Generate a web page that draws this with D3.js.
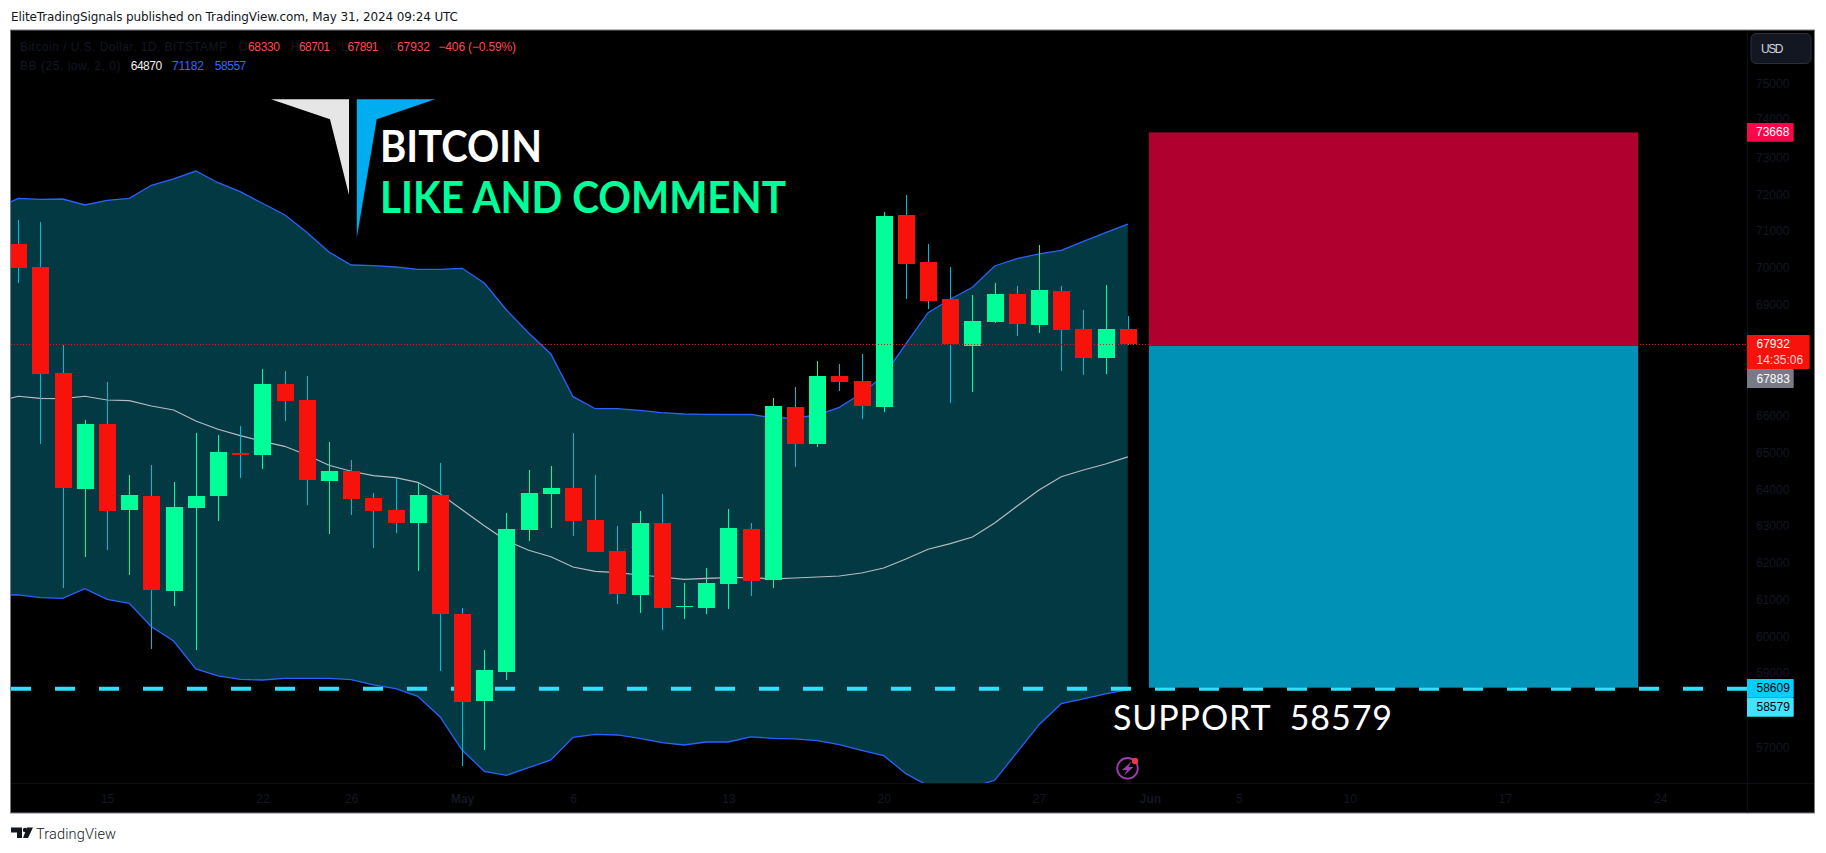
<!DOCTYPE html>
<html>
<head>
<meta charset="utf-8">
<script src="https://cdn.jsdelivr.net/npm/d3@7/dist/d3.min.js"></script>
<style>
html,body{margin:0;padding:0;background:#fff;overflow:hidden}
svg{display:block}
text{white-space:pre}
</style>
</head>
<body>
<svg id="chart" width="1826" height="853"></svg>
<script>
const opens = [70642,70018,67143,63997,65760,63436,63808,61231,63482,63808,64974,64920,66845,66411,64214,64485,63753,63428,63075,63835,60607,58248,59035,62886,63862,64024,63156,62316,61123,63075,60797,60770,61421,62913,61529,66221,65218,67062,66926,66221,71428,70154,69150,67876,68526,69286,68445,69367,68337,67550,68330];
const highs = [71293,71238,67903,65869,66899,64377,64648,64187,65516,65462,65706,67252,67198,67062,65272,64784,63889,64296,64187,64702,60770,59631,63346,64513,64621,65516,64377,62994,63401,63862,61448,61855,63455,63075,66465,66764,67469,67387,67659,71510,71971,70642,70018,69259,69584,69503,70615,69503,68852,69530,68701];
const lows = [69584,65226,61321,62161,62351,61665,59658,60832,59640,63129,64304,64540,65841,63563,62777,63292,62397,62804,61773,59061,56493,56919,58817,62587,62940,62723,62280,60879,60634,60174,60472,60607,60743,61095,61313,64594,65136,66655,65896,66086,69150,68879,66330,66628,68499,68147,68228,67198,67089,67116,67891];
const closes = [69991,67124,64033,65760,63409,63835,61266,63509,63808,65001,64920,66845,66384,64241,64485,63726,63401,63075,63835,60607,58221,59089,62913,63889,64024,63129,62289,61158,63075,60770,60824,61448,62940,61502,66248,65218,67062,66899,66248,71401,70099,69096,67930,68553,69286,68472,69394,68310,67550,68337,67932];
const bbUpper = [71602,71881,71854,71862,71700,71827,71881,72234,72405,72621,72304,72060,71746,71436,70959,70425,70072,70053,70018,69956,69956,69983,69584,68852,68228,67659,66501,66175,66175,66132,66067,66031,66023,66018,66023,65923,65923,66004,66213,66593,67070,67930,68779,69142,69468,70045,70243,70371,70471,70715,70948,71182];
const bbMiddle = [66357,66512,66457,66446,66512,66411,66392,66249,66140,65841,65617,65443,65291,65155,64920,64640,64478,64358,64304,64179,63870,63436,63002,62596,62335,62161,61882,61765,61727,61665,61611,61548,61575,61592,61592,61557,61584,61611,61638,61719,61855,62099,62362,62514,62696,63075,63528,63970,64331,64513,64675,64870];
const bbLower = [61123,61123,61050,61033,61295,61006,60898,60263,59875,59116,58926,58836,58817,58863,58863,58863,58826,58682,58581,58375,57822,56919,56341,56233,56439,56648,57263,57344,57326,57236,57117,57055,57136,57136,57272,57236,57218,57172,57063,56911,56765,56277,55951,55835,55916,56097,56846,57605,58175,58303,58438,58557];
const priceTicks = [75000,74000,73000,72000,71000,70000,69000,66000,65000,64000,63000,62000,61000,60000,59000,57000];
const timeTickBars = [4,11,15,20,25,32,39,46,51,55,60,67,74];
const timeTickLabels = ["15","22","26","May","6","13","20","27","Jun","5","10","17","24"];
const boldTimeLabels = ["May","Jun"];
const lastClose = 67932, stopPrice = 73668, entryPrice = 67883, targetPrice = 58609, supportPrice = 58579;
const boxBars = [50.95, 73];

const svg = d3.select("#chart");
const FF = "'Liberation Sans',Arial,sans-serif";
const x = d3.scaleLinear().domain([0,50]).range([18.3,1127.8]);
const y = d3.scaleLinear().domain([75000,57000]).range([83.3,747]);
const dark = "#131722";
const UP="#00ff99", DOWN="#f7120c", WICKD="#00bcd4", BLUE="#2962ff", TEAL="#023942", DASH="#2fe0ff";
const barW = 17;

svg.append("rect").attr("x",10.5).attr("y",30).attr("width",1804).attr("height",783)
  .attr("fill","#000").attr("stroke","#787b86").attr("stroke-width",1);

const defs = svg.append("defs");
defs.append("clipPath").attr("id","plot").append("rect").attr("x",11).attr("y",31).attr("width",1736).attr("height",752);

const plot = svg.append("g").attr("clip-path","url(#plot)");

const bandIdx = bbUpper.map((_, i) => i - 1);
plot.append("path").attr("fill",TEAL)
  .attr("d", d3.area().x(i=>x(i)).y0(i=>y(bbLower[i+1])).y1(i=>y(bbUpper[i+1]))(bandIdx));
const bandLine = arr => d3.line().x(i=>x(i)).y(i=>y(arr[i+1]))(bandIdx);
plot.append("path").attr("fill","none").attr("stroke",BLUE).attr("stroke-width",1.3).attr("d",bandLine(bbUpper));
plot.append("path").attr("fill","none").attr("stroke",BLUE).attr("stroke-width",1.3).attr("d",bandLine(bbLower));
plot.append("path").attr("fill","none").attr("stroke","#b8bcc4").attr("stroke-width",1.2).attr("d",bandLine(bbMiddle));

plot.append("line").attr("x1",11).attr("x2",1747).attr("y1",y(supportPrice)).attr("y2",y(supportPrice))
  .attr("stroke",DASH).attr("stroke-width",4).attr("stroke-dasharray","20 24");

const bars = plot.append("g").selectAll("g").data(opens.map((o,i)=>({i,o,h:highs[i],l:lows[i],c:closes[i]}))).join("g");
bars.append("line").attr("shape-rendering","crispEdges")
  .attr("x1",d=>Math.round(x(d.i))+.5).attr("x2",d=>Math.round(x(d.i))+.5)
  .attr("y1",d=>y(d.h)).attr("y2",d=>y(d.l))
  .attr("stroke",d=>d.c>=d.o?UP:WICKD).attr("stroke-width",1);
bars.append("rect").attr("shape-rendering","crispEdges")
  .attr("x",d=>Math.round(x(d.i))+.5-barW/2).attr("width",barW)
  .attr("y",d=>y(Math.max(d.o,d.c)))
  .attr("height",d=>Math.max(1,Math.abs(y(d.o)-y(d.c))))
  .attr("fill",d=>d.c>=d.o?UP:DOWN);

plot.append("line").attr("x1",11).attr("x2",1747).attr("y1",Math.round(y(lastClose))+.5).attr("y2",Math.round(y(lastClose))+.5)
  .attr("stroke",DOWN).attr("stroke-width",1).attr("stroke-dasharray","1 2");

const bx0=x(boxBars[0]), bx1=x(boxBars[1]);
plot.append("rect").attr("x",bx0).attr("width",bx1-bx0).attr("y",y(stopPrice)).attr("height",y(entryPrice)-y(stopPrice)).attr("fill","#b00030");
plot.append("rect").attr("x",bx0).attr("width",bx1-bx0).attr("y",y(entryPrice)).attr("height",y(targetPrice)-y(entryPrice)).attr("fill","#0091b7");

// logo
plot.append("polygon").attr("points","271,99.3 349,99.3 349,195 330,119.3").attr("fill","#e6e6e6");
plot.append("polygon").attr("points","356.8,99.3 435,99.3 376.7,119.3 356.8,237.7").attr("fill","#00aeef");

function label(t,px,py,o={}){
  const e = svg.append("text").text(t).attr("x",px).attr("y",py)
    .attr("dominant-baseline",o.base||"central")
    .attr("font-family",o.ff||FF).attr("font-size",o.size||12).attr("fill",o.fill||dark)
    .attr("font-weight",o.weight||400).attr("text-anchor",o.anchor||"start");
  if(o.len) e.attr("textLength",o.len).attr("lengthAdjust",o.adj||"spacing");
  return e;
}

// headline texts
const LOGOF="Lato,'Open Sans',sans-serif";
label("BITCOIN",380,162.3,{ff:LOGOF,size:44,fill:"#fff",base:"auto",len:162,weight:700,adj:"spacingAndGlyphs"});
label("LIKE AND COMMENT",380,212.7,{ff:LOGOF,size:44,fill:UP,base:"auto",len:406,weight:700,adj:"spacingAndGlyphs"});
label("SUPPORT  58579",1113,730,{ff:LOGOF,size:34,fill:"#fff",base:"auto",len:279,adj:"spacing"});

// icon
const icon = svg.append("g");
icon.append("circle").attr("cx",1127.5).attr("cy",768.3).attr("r",10.3).attr("fill","none").attr("stroke","#9c3fb0").attr("stroke-width",1.8);
icon.append("path").attr("d","M1131.5 761.5 L1122 770 L1127 770 L1124 775.5 L1133.5 767 L1128.5 767 Z").attr("fill","#9c3fb0");
icon.append("circle").attr("cx",1135).attr("cy",761).attr("r",3.2).attr("fill","#f23645");

// axis separators
svg.append("line").attr("x1",11).attr("x2",1814).attr("y1",783.5).attr("y2",783.5).attr("stroke","#0d0f14");
svg.append("line").attr("x1",1747.5).attr("x2",1747.5).attr("y1",31).attr("y2",813).attr("stroke","#0d0f14");

// price axis
const yAxis = d3.axisRight(y).tickValues(priceTicks).tickSize(0).tickPadding(0).tickFormat(d3.format("d"));
const gy = svg.append("g").attr("transform","translate(1756,0)").call(yAxis);
gy.select(".domain").remove();
gy.selectAll("text").attr("font-family",FF).attr("font-size",12).attr("fill",dark).attr("x",0).attr("dy",".35em").attr("text-anchor","start");
// the 74000 and 59000 labels sit just clear of the tags, as they appear in the reference
gy.selectAll("text").filter(d=>d===74000).attr("transform","translate(0,-2)");
gy.selectAll("text").filter(d=>d===59000).attr("transform","translate(0,-1)");

// time axis
const xAxis = d3.axisBottom(x).tickValues(timeTickBars).tickSize(0).tickFormat((d,i)=>timeTickLabels[i]);
const gx = svg.append("g").attr("transform","translate(0,784)").call(xAxis);
gx.select(".domain").remove();
gx.selectAll("text").attr("font-family",FF).attr("font-size",12).attr("fill",dark).attr("y",15).attr("dy",".35em")
  .attr("font-weight",(d,i)=>boldTimeLabels.includes(timeTickLabels[i])?700:400);

// price tags
function tag(px0,px1,py0,py1,fill){ svg.append("path").attr("fill",fill)
  .attr("d",`M${px0} ${py0} H${px1-1} Q${px1} ${py0} ${px1} ${py0+1} V${py1-1} Q${px1} ${py1} ${px1-1} ${py1} H${px0} Z`); }
tag(1747,1793.7,123,141.7,"#f7084b");
label(String(stopPrice),1756,132.4,{fill:"#fff"});
tag(1747,1809.7,335,369,DOWN);
label(String(lastClose),1756.5,344,{fill:"#fff"});
label("14:35:06",1756.5,359.7,{fill:"#ffd2d0"});
tag(1747,1793.7,369,388,"#787b86");
label(String(entryPrice),1756.5,378.5,{fill:"#fff"});
tag(1747,1793.7,679,697.7,"#00cfff");
label(String(targetPrice),1756.5,688.3,{fill:"#000"});
tag(1747,1793.7,697.7,716.7,"#3fe5ff");
label(String(supportPrice),1756.5,707,{fill:"#000"});

// USD button
svg.append("rect").attr("x",1751).attr("y",33.5).attr("width",60).attr("height",30).attr("rx",5)
  .attr("fill","#131722").attr("stroke","#2a2e39");
label("USD",1761,48.5,{fill:"#d1d4dc",len:22.5});

// legend
label("Bitcoin / U.S. Dollar, 1D, BITSTAMP",20,46.7,{len:207});
const RED="#ff4a4a";
label("O",238.5,46.7);
label(String(opens[50]),248,46.7,{fill:RED,len:32});
label("H",290.7,46.7);
label(String(highs[50]),299,46.7,{fill:RED,len:31});
label("L",341,46.7);
label(String(lows[50]),347.5,46.7,{fill:RED,len:31});
label("C",390,46.7);
label(String(closes[50]),397,46.7,{fill:RED,len:33});
label("\u2212406 (\u22120.59%)",438.5,46.7,{fill:RED,len:77.5});
label("BB (25, low, 2, 0)",20,65.7,{len:100.5});
label(String(bbMiddle[51]),130.7,65.7,{fill:"#f0f0f0",len:31.5});
label(String(bbUpper[51]),172,65.7,{fill:"#2f6bff",len:32});
label(String(bbLower[51]),214.8,65.7,{fill:"#2f6bff",len:31.5});

// publisher header and footer
label("EliteTradingSignals published on TradingView.com, May 31, 2024 09:24 UTC",11,16.7,{ff:"'DejaVu Sans',sans-serif",size:12,fill:"#131722",len:447});
svg.append("path").attr("fill","#131722").attr("d","M11 827.5 H22 V838 H17 V832.5 H11 Z M27 827.5 H33 L28 838 H23 Z");
svg.append("circle").attr("cx",25).attr("cy",830).attr("r",2.2).attr("fill","#131722");
label("TradingView",36,834,{ff:"Roboto,sans-serif",size:14.5,weight:300,fill:"#131722",len:80});
</script>
</body>
</html>
